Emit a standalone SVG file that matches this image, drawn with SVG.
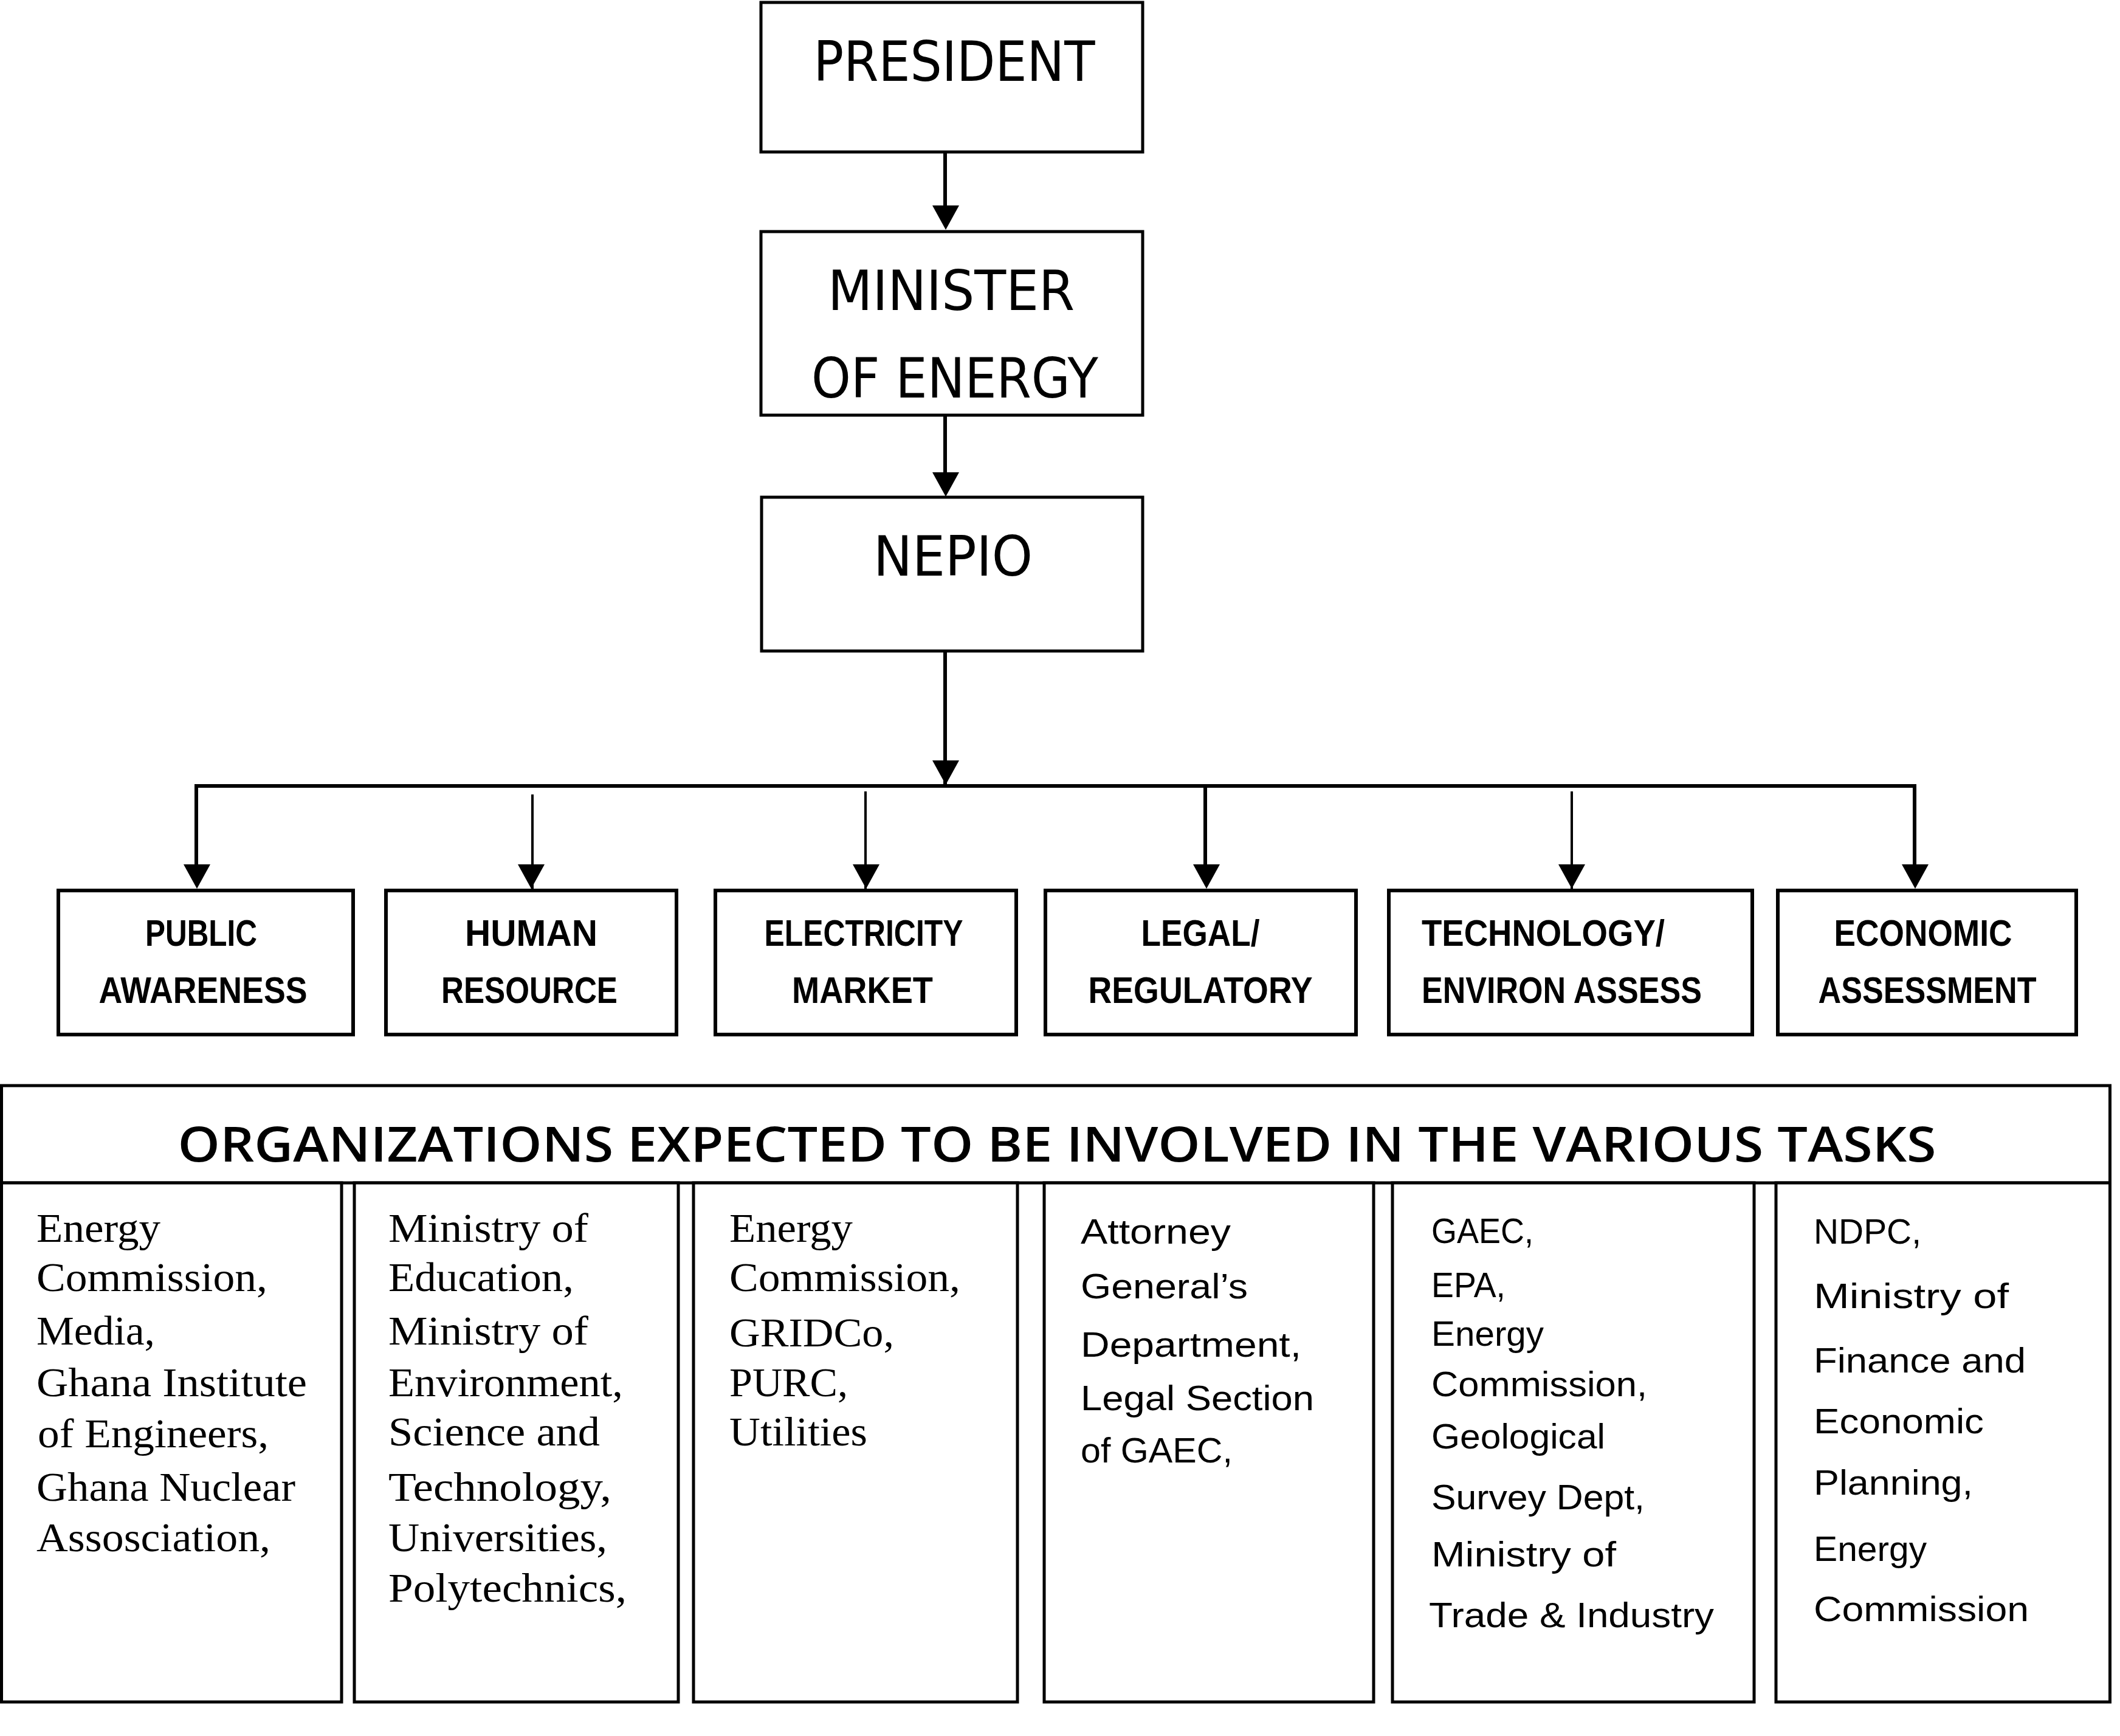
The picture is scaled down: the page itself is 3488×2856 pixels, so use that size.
<svg xmlns="http://www.w3.org/2000/svg" xmlns:xlink="http://www.w3.org/1999/xlink" width="3488" height="2856" viewBox="0 0 3488 2856">
<style>
.box{fill:#fff;stroke:#000;stroke-width:5}
.sub{fill:#fff;stroke:#000;stroke-width:6}
.ln{fill:none;stroke:#000;stroke-width:6}
.lt{fill:none;stroke:#000;stroke-width:4}
text{fill:#000}
.t1{font-family:"DejaVu Sans","Liberation Sans",sans-serif;font-size:90px;text-anchor:middle}
.t2{font-family:"Liberation Sans",Arial,sans-serif;font-weight:bold;font-size:61px}
.m{text-anchor:middle}
.hd{font-family:"Open Sans","DejaVu Sans",sans-serif;font-weight:600;font-size:80px;text-anchor:middle}
.sr{font-family:"Liberation Serif","Times New Roman",serif;font-size:68px}
.ss{font-family:"Liberation Sans",Arial,sans-serif;font-size:57px}
</style>
<defs>
<path id="ah" d="M-22,-40 L22,-40 L0,0 Z" fill="#000"/>
</defs>
<rect width="3488" height="2856" fill="#fff"/>

<g id="connectors">
<line class="ln" x1="1555" y1="250" x2="1555" y2="345"/>
<use xlink:href="#ah" x="1556" y="378"/>
<line class="ln" x1="1555" y1="683" x2="1555" y2="785"/>
<use xlink:href="#ah" x="1556" y="817"/>
<line class="ln" x1="1555" y1="1071" x2="1555" y2="1293"/>
<use xlink:href="#ah" x="1556" y="1291"/>
<path class="ln" d="M323,1440 V1293 H3150 V1440"/>
<use xlink:href="#ah" x="324" y="1462"/>
<use xlink:href="#ah" x="3151" y="1462"/>
<line class="ln" x1="1983" y1="1293" x2="1983" y2="1440"/>
<use xlink:href="#ah" x="1985" y="1462"/>
<line class="lt" x1="876" y1="1307" x2="876" y2="1462"/>
<use xlink:href="#ah" x="874" y="1462"/>
<line class="lt" x1="1424" y1="1302" x2="1424" y2="1473"/>
<use xlink:href="#ah" x="1425" y="1462"/>
<line class="lt" x1="2586" y1="1302" x2="2586" y2="1473"/>
<use xlink:href="#ah" x="2586" y="1462"/>
</g>

<g id="president">
<rect class="box" x="1252" y="4" width="628" height="246"/>
<text class="t1" x="1570" y="133" textLength="463" lengthAdjust="spacingAndGlyphs">PRESIDENT</text>
</g>
<g id="minister">
<rect class="box" x="1252" y="381" width="628" height="302"/>
<text class="t1" x="1565" y="510" textLength="406" lengthAdjust="spacingAndGlyphs">MINISTER</text>
<text class="t1" x="1571" y="654" textLength="472" lengthAdjust="spacingAndGlyphs">OF ENERGY</text>
</g>
<g id="nepio">
<rect class="box" x="1253" y="818" width="627" height="253"/>
<text class="t1" x="1568" y="947" textLength="262" lengthAdjust="spacingAndGlyphs">NEPIO</text>
</g>

<g id="public-awareness">
<rect class="sub" x="96" y="1465" width="485" height="237"/>
<text class="t2 m" x="331" y="1556" textLength="184" lengthAdjust="spacingAndGlyphs">PUBLIC</text>
<text class="t2 m" x="334" y="1650" textLength="343" lengthAdjust="spacingAndGlyphs">AWARENESS</text>
</g>
<g id="human-resource">
<rect class="sub" x="635" y="1465" width="478" height="237"/>
<text class="t2 m" x="874" y="1556" textLength="218" lengthAdjust="spacingAndGlyphs">HUMAN</text>
<text class="t2 m" x="871" y="1650" textLength="290" lengthAdjust="spacingAndGlyphs">RESOURCE</text>
</g>
<g id="electricity-market">
<rect class="sub" x="1177" y="1465" width="495" height="237"/>
<text class="t2 m" x="1421" y="1556" textLength="327" lengthAdjust="spacingAndGlyphs">ELECTRICITY</text>
<text class="t2 m" x="1419" y="1650" textLength="232" lengthAdjust="spacingAndGlyphs">MARKET</text>
</g>
<g id="legal-regulatory">
<rect class="sub" x="1720" y="1465" width="511" height="237"/>
<text class="t2 m" x="1975" y="1556" textLength="195" lengthAdjust="spacingAndGlyphs">LEGAL/</text>
<text class="t2 m" x="1975" y="1650" textLength="369" lengthAdjust="spacingAndGlyphs">REGULATORY</text>
</g>
<g id="technology-environ">
<rect class="sub" x="2285" y="1465" width="598" height="237"/>
<text class="t2" x="2339" y="1556" textLength="400" lengthAdjust="spacingAndGlyphs">TECHNOLOGY/</text>
<text class="t2" x="2339" y="1650" textLength="461" lengthAdjust="spacingAndGlyphs">ENVIRON ASSESS</text>
</g>
<g id="economic-assessment">
<rect class="sub" x="2925" y="1465" width="491" height="237"/>
<text class="t2 m" x="3164" y="1556" textLength="293" lengthAdjust="spacingAndGlyphs">ECONOMIC</text>
<text class="t2 m" x="3171" y="1650" textLength="359" lengthAdjust="spacingAndGlyphs">ASSESSMENT</text>
</g>

<g id="organizations-header">
<rect class="box" x="2.5" y="1786" width="3469" height="160"/>
<text class="hd" x="1739" y="1911" textLength="2893" lengthAdjust="spacingAndGlyphs">ORGANIZATIONS EXPECTED TO BE INVOLVED IN THE VARIOUS TASKS</text>
</g>

<g id="col-public">
<rect class="box" x="2.5" y="1946" width="559.5" height="854"/>
<text class="sr" x="60" y="2043" textLength="204" lengthAdjust="spacingAndGlyphs">Energy</text>
<text class="sr" x="60" y="2124" textLength="380" lengthAdjust="spacingAndGlyphs">Commission,</text>
<text class="sr" x="60" y="2212" textLength="195" lengthAdjust="spacingAndGlyphs">Media,</text>
<text class="sr" x="60" y="2297" textLength="445" lengthAdjust="spacingAndGlyphs">Ghana Institute</text>
<text class="sr" x="62" y="2381" textLength="380" lengthAdjust="spacingAndGlyphs">of Engineers,</text>
<text class="sr" x="60" y="2469" textLength="426" lengthAdjust="spacingAndGlyphs">Ghana Nuclear</text>
<text class="sr" x="60" y="2552" textLength="385" lengthAdjust="spacingAndGlyphs">Assosciation,</text>
</g>
<g id="col-human">
<rect class="box" x="583" y="1946" width="533" height="854"/>
<text class="sr" x="639" y="2043" textLength="329" lengthAdjust="spacingAndGlyphs">Ministry of</text>
<text class="sr" x="639" y="2124" textLength="305" lengthAdjust="spacingAndGlyphs">Education,</text>
<text class="sr" x="639" y="2212" textLength="329" lengthAdjust="spacingAndGlyphs">Ministry of</text>
<text class="sr" x="639" y="2297" textLength="386" lengthAdjust="spacingAndGlyphs">Environment,</text>
<text class="sr" x="639" y="2378" textLength="348" lengthAdjust="spacingAndGlyphs">Science and</text>
<text class="sr" x="639" y="2469" textLength="367" lengthAdjust="spacingAndGlyphs">Technology,</text>
<text class="sr" x="639" y="2552" textLength="360" lengthAdjust="spacingAndGlyphs">Universities,</text>
<text class="sr" x="639" y="2635" textLength="392" lengthAdjust="spacingAndGlyphs">Polytechnics,</text>
</g>
<g id="col-electricity">
<rect class="box" x="1141" y="1946" width="533" height="854"/>
<text class="sr" x="1200" y="2043" textLength="203" lengthAdjust="spacingAndGlyphs">Energy</text>
<text class="sr" x="1200" y="2124" textLength="380" lengthAdjust="spacingAndGlyphs">Commission,</text>
<text class="sr" x="1200" y="2215" textLength="271" lengthAdjust="spacingAndGlyphs">GRIDCo,</text>
<text class="sr" x="1200" y="2297" textLength="195" lengthAdjust="spacingAndGlyphs">PURC,</text>
<text class="sr" x="1200" y="2378" textLength="227" lengthAdjust="spacingAndGlyphs">Utilities</text>
</g>
<g id="col-legal">
<rect class="box" x="1718" y="1946" width="542" height="854"/>
<text class="ss" x="1778" y="2046" textLength="247" lengthAdjust="spacingAndGlyphs">Attorney</text>
<text class="ss" x="1778" y="2136" textLength="275" lengthAdjust="spacingAndGlyphs">General’s</text>
<text class="ss" x="1778" y="2232" textLength="363" lengthAdjust="spacingAndGlyphs">Department,</text>
<text class="ss" x="1778" y="2320" textLength="384" lengthAdjust="spacingAndGlyphs">Legal Section</text>
<text class="ss" x="1778" y="2406" textLength="250" lengthAdjust="spacingAndGlyphs">of GAEC,</text>
</g>
<g id="col-technology">
<rect class="box" x="2291" y="1946" width="595" height="854"/>
<text class="ss" x="2355" y="2045" textLength="168" lengthAdjust="spacingAndGlyphs">GAEC,</text>
<text class="ss" x="2355" y="2134" textLength="122" lengthAdjust="spacingAndGlyphs">EPA,</text>
<text class="ss" x="2355" y="2214" textLength="185" lengthAdjust="spacingAndGlyphs">Energy</text>
<text class="ss" x="2355" y="2297" textLength="355" lengthAdjust="spacingAndGlyphs">Commission,</text>
<text class="ss" x="2355" y="2383" textLength="286" lengthAdjust="spacingAndGlyphs">Geological</text>
<text class="ss" x="2355" y="2483" textLength="351" lengthAdjust="spacingAndGlyphs">Survey Dept,</text>
<text class="ss" x="2355" y="2577" textLength="304" lengthAdjust="spacingAndGlyphs">Ministry of</text>
<text class="ss" x="2351" y="2677" textLength="469" lengthAdjust="spacingAndGlyphs">Trade &amp; Industry</text>
</g>
<g id="col-economic">
<rect class="box" x="2922" y="1946" width="549.5" height="854"/>
<text class="ss" x="2984" y="2046" textLength="177" lengthAdjust="spacingAndGlyphs">NDPC,</text>
<text class="ss" x="2984" y="2152" textLength="321" lengthAdjust="spacingAndGlyphs">Ministry of</text>
<text class="ss" x="2984" y="2258" textLength="349" lengthAdjust="spacingAndGlyphs">Finance and</text>
<text class="ss" x="2984" y="2358" textLength="280" lengthAdjust="spacingAndGlyphs">Economic</text>
<text class="ss" x="2984" y="2459" textLength="262" lengthAdjust="spacingAndGlyphs">Planning,</text>
<text class="ss" x="2984" y="2568" textLength="186" lengthAdjust="spacingAndGlyphs">Energy</text>
<text class="ss" x="2984" y="2667" textLength="354" lengthAdjust="spacingAndGlyphs">Commission</text>
</g>
</svg>
